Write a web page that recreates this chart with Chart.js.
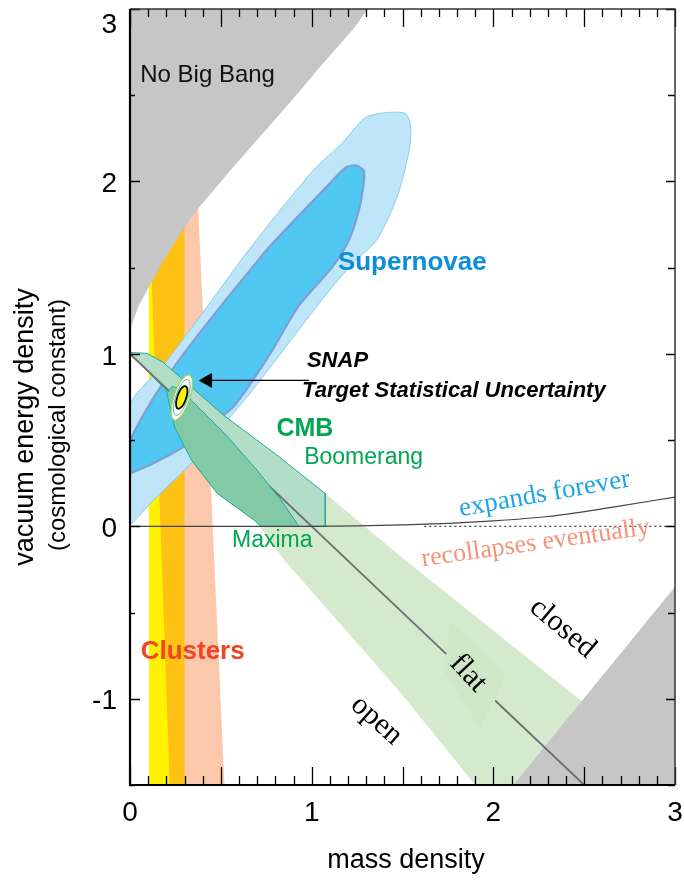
<!DOCTYPE html>
<html><head><meta charset="utf-8">
<script src="https://cdn.jsdelivr.net/npm/chart.js@4.4.1/dist/chart.umd.min.js"></script>
<style>html,body{margin:0;padding:0;background:#fff;}canvas{display:block;}</style>
</head><body>
<canvas id="c" width="684" height="880"></canvas>
<script>
// ---- axes ----
const xRange = [0, 3];
const yRange = [-1.5, 3];
const xTickValues = [0, 1, 2, 3];
const xTickLabels = ['0', '1', '2', '3'];
const yTickValues = [-1, 0, 1, 2, 3];
const yTickLabels = ['-1', '0', '1', '2', '3'];
const xAxisTitle = 'mass density';
const yAxisTitle = 'vacuum energy density';
const yAxisSubTitle = '(cosmological constant)';

// ---- regions (mass density, vacuum energy density) ----
const noBigBang = [[0,3],[1.31,3],[1.232,2.887],[1.05,2.67],[0.89,2.47],[0.565,2.08],[0.365,1.83],[0.297,1.73],[0.19,1.55],[0.11,1.40],[0.044,1.27],[0.01,1.17],[0,1.12]];
const recollapseCorner = [[2.11,-1.5],[3,-1.5],[3,-0.35]];
const clusterPink = [[0.29,2.2],[0.36,2.2],[0.52,-1.5],[0.29,-1.5]];
const clusterYellow = [[0.104,2.2],[0.25,2.2],[0.25,-1.5],[0.104,-1.5]];
const clusterOrange = [[0.093,2.2],[0.30,2.2],[0.30,-1.5],[0.219,-1.5]];
const supernovaOuter = [[0,0.02],[0,0.70],[0.192,0.945],[0.45,1.31],[0.63,1.57],[0.838,1.849],[1.024,2.081],[1.166,2.22],[1.297,2.371],[1.423,2.40],[1.516,2.394],[1.543,2.336],[1.543,2.22],[1.494,1.988],[1.44,1.83],[1.352,1.652],[1.242,1.542],[1.111,1.386],[0.914,1.119],[0.673,0.788],[0.476,0.539],[0.312,0.339],[0.126,0.148],[0.011,0.017]];
const supernovaInner = [[0,0.307],[0.126,0.365],[0.29,0.458],[0.41,0.557],[0.575,0.701],[0.766,0.991],[0.93,1.281],[1.111,1.501],[1.204,1.658],[1.259,1.832],[1.286,1.988],[1.286,2.064],[1.242,2.093],[1.188,2.081],[1.078,1.965],[0.93,1.803],[0.75,1.6],[0.657,1.48],[0.547,1.339],[0.301,1.009],[0.192,0.846],[0.082,0.661],[0,0.487]];
const cmbWide = [[1.075,0.19],[1.516,-0.197],[2.48,-1.009],[2.75,-1.25],[2.45,-1.5],[1.9,-1.5],[1.478,-0.951],[0.85,-0.197],[0.70,0.02],[0.9,0.2]];
const flatPatch = [[1.762,-0.545],[2.069,-0.864],[1.927,-1.171],[1.724,-0.835]];
const cmbBoomerang = [[0,1.008],[0.093,1.003],[0.18,0.953],[0.52,0.64],[0.8,0.42],[1.075,0.19],[1.075,0],[0.72,0],[0.19,0.80],[0.011,0.991]];
const cmbMaxima = [[0.2025,0.771],[0.23,0.81],[0.274,0.80],[0.339,0.73],[0.52,0.539],[0.70,0.325],[0.832,0.151],[0.93,0.0],[0.72,0],[0.684,0.035],[0.48,0.191],[0.339,0.383],[0.246,0.574]];
const snapOuter = [[0.327,0.880],[0.342,0.855],[0.342,0.801],[0.326,0.733],[0.300,0.669],[0.269,0.627],[0.243,0.616],[0.228,0.641],[0.228,0.695],[0.244,0.763],[0.270,0.827],[0.301,0.869]];
const snapMiddle = [[0.318,0.852],[0.329,0.833],[0.329,0.790],[0.316,0.737],[0.295,0.686],[0.272,0.652],[0.252,0.644],[0.241,0.663],[0.241,0.706],[0.254,0.759],[0.275,0.810],[0.298,0.844]];
const snapCore = [[0.306,0.814],[0.315,0.801],[0.316,0.774],[0.308,0.740],[0.295,0.708],[0.278,0.687],[0.264,0.682],[0.255,0.695],[0.254,0.722],[0.262,0.756],[0.275,0.788],[0.292,0.809]];

// ---- lines ----
const flatLineA = [[0,1],[1.74,-0.74]];
const flatLineB = [[2.01,-1.01],[2.5,-1.5]];
const expandBoundary = [[0,0],[0.5,0],[1,0],[1.5,0.008],[2,0.032],[2.3,0.057],[2.65,0.11],[3,0.17]];
const dottedZero = [[1.62,0],[3,0]];
const arrowLine = [[0.985,0.846],[0.43,0.846]];
const arrowHead = [[0.427,0.846]];

// ---- text annotations ----
const annotations = [
  {t:'No Big Bang', x:0.427, y:2.614, f:'24px "Liberation Sans"', c:'#111', a:'center', r:0},
  {t:'Supernovae', x:1.554, y:1.53, f:'bold 26px "Liberation Sans"', c:'#0C8ED9', a:'center', r:0},
  {t:'SNAP', x:0.974, y:0.962, f:'italic bold 22px "Liberation Sans"', c:'#000', a:'left', r:0},
  {t:'Target Statistical Uncertainty', x:0.947, y:0.788, f:'italic bold 22px "Liberation Sans"', c:'#000', a:'left', r:0},
  {t:'CMB', x:0.963, y:0.562, f:'bold 25px "Liberation Sans"', c:'#00A651', a:'center', r:0},
  {t:'Boomerang', x:1.286, y:0.40, f:'23px "Liberation Sans"', c:'#00A651', a:'center', r:0},
  {t:'Maxima', x:0.783, y:-0.081, f:'23px "Liberation Sans"', c:'#00A651', a:'center', r:0},
  {t:'expands forever', x:2.282, y:0.186, f:'27px "Liberation Serif"', c:'#1CA6E5', a:'center', r:-10},
  {t:'recollapses eventually', x:2.233, y:-0.099, f:'26px "Liberation Serif"', c:'#F4937A', a:'center', r:-8},
  {t:'Clusters', x:0.345, y:-0.73, f:'bold 26px "Liberation Sans"', c:'#EE4524', a:'center', r:0},
  {t:'closed', x:2.381, y:-0.591, f:'30px "Liberation Serif"', c:'#000', a:'center', r:40},
  {t:'flat', x:1.861, y:-0.852, f:'30px "Liberation Serif"', c:'#000', a:'center', r:47},
  {t:'open', x:1.357, y:-1.125, f:'30px "Liberation Serif"', c:'#000', a:'center', r:42}
];

const pts = a => a.map(([x, y]) => ({x, y}));
function poly(arr, fill, border, bw, tension) {
  const d = pts(arr); d.push({...d[0]});
  return {data: d, showLine: true, fill: 'shape', backgroundColor: fill,
    borderColor: border || 'rgba(0,0,0,0)', borderWidth: bw || 0, pointRadius: 0, tension: tension || 0};
}
function line(arr, color, bw, extra) {
  return Object.assign({data: pts(arr), showLine: true, fill: false, borderColor: color,
    borderWidth: bw, pointRadius: 0, tension: 0}, extra || {});
}

// bottom -> top
const layers = [
  poly(clusterPink, '#FBC8AC'),
  poly(clusterYellow, '#FFF200'),
  poly(clusterOrange, '#FDC214'),
  poly(supernovaOuter, '#BEE5F8', '#86CDF0', 1, 0.25),
  poly(supernovaInner, '#50C8F2', '#7E9FD6', 2.2, 0.25),
  poly(cmbWide, '#D5EACC'),
  poly(flatPatch, '#CFE6C7'),
  poly(recollapseCorner, '#C6C6C6'),
  poly(noBigBang, '#C6C6C6'),
  poly(cmbBoomerang, '#B2DEC7', '#22A897', 1),
  line(flatLineA, '#6E6E6E', 1.8),
  line(flatLineB, '#6E6E6E', 1.8),
  poly(cmbMaxima, '#82CAA6', '#22A897', 1),
  line(expandBoundary, '#444', 1.2, {cubicInterpolationMode: 'monotone'}),
  line(dottedZero, '#444', 1.2, {borderDash: [2, 3]}),
  poly(snapOuter, '#FFFFFF', '#A6CF4A', 1.2, 0.4),
  poly(snapMiddle, '#FFFFFF', '#47B3A4', 1, 0.4),
  poly(snapCore, '#FFF200', '#000000', 1.8, 0.4),
  line(arrowLine, '#000', 1.3),
  {data: pts(arrowHead), showLine: false, pointStyle: 'triangle', rotation: 270, pointRadius: 8,
    backgroundColor: '#000', borderColor: '#000', borderWidth: 1}
];
layers.forEach((d, i) => { d.order = layers.length - i; });

const decor = {
  id: 'decor',
  afterDatasetsDraw(chart) {
    const ctx = chart.ctx, xs = chart.scales.x, ys = chart.scales.y;
    annotations.forEach(o => {
      ctx.save();
      ctx.translate(xs.getPixelForValue(o.x), ys.getPixelForValue(o.y));
      ctx.rotate(o.r * Math.PI / 180);
      ctx.font = o.f; ctx.fillStyle = o.c; ctx.textAlign = o.a; ctx.textBaseline = 'middle';
      ctx.fillText(o.t, 0, 0);
      ctx.restore();
    });
  },
  afterDraw(chart) {
    const ctx = chart.ctx, xs = chart.scales.x, ys = chart.scales.y, a = chart.chartArea;
    ctx.save();
    ctx.strokeStyle = '#000';
    // ticks
    ctx.lineWidth = 1.3;
    ctx.beginPath();
    for (let i = 0; i <= 30; i++) {
      const v = i / 10, px = Math.round(xs.getPixelForValue(v)) + 0.5;
      const major = i % 5 === 0;
      ctx.moveTo(px, a.bottom); ctx.lineTo(px, a.bottom - (major ? 18 : 9));
      ctx.moveTo(px, a.top); ctx.lineTo(px, a.top + (major ? 18 : 8));
    }
    for (let i = 0; i <= 9; i++) {
      const v = yRange[0] + i * 0.5, py = Math.round(ys.getPixelForValue(v)) + 0.5;
      const major = Number.isInteger(v);
      ctx.moveTo(a.left, py); ctx.lineTo(a.left + (major ? 10 : 5), py);
      ctx.moveTo(a.right, py); ctx.lineTo(a.right - (major ? 9 : 7), py);
    }
    ctx.stroke();
    // frame
    ctx.lineWidth = 1.5; ctx.strokeStyle = '#333';
    ctx.beginPath();
    ctx.moveTo(a.left, a.top); ctx.lineTo(a.right, a.top); ctx.lineTo(a.right, a.bottom);
    ctx.stroke();
    ctx.lineWidth = 2.2; ctx.strokeStyle = '#000';
    ctx.beginPath();
    ctx.moveTo(a.left, a.top); ctx.lineTo(a.left, a.bottom); ctx.lineTo(a.right, a.bottom);
    ctx.stroke();
    // tick labels
    ctx.fillStyle = '#000';
    ctx.font = '28px "Liberation Sans"';
    ctx.textAlign = 'center'; ctx.textBaseline = 'middle';
    xTickValues.forEach((v, i) => ctx.fillText(xTickLabels[i], xs.getPixelForValue(v), 813));
    ctx.textAlign = 'right';
    yTickValues.forEach((v, i) => {
      const py = Math.max(ys.getPixelForValue(v) + 3, a.top + 16);
      ctx.fillText(yTickLabels[i], 117, py);
    });
    // axis titles
    ctx.font = '27px "Liberation Sans"'; ctx.textAlign = 'center';
    ctx.fillText(xAxisTitle, 406, 861);
    ctx.save(); ctx.translate(26, 427); ctx.rotate(-Math.PI / 2);
    ctx.fillText(yAxisTitle, 0, 0); ctx.restore();
    ctx.save(); ctx.translate(58, 425); ctx.rotate(-Math.PI / 2);
    ctx.font = '24px "Liberation Sans"';
    ctx.fillText(yAxisSubTitle, 0, 0); ctx.restore();
    ctx.restore();
  }
};

new Chart(document.getElementById('c'), {
  type: 'scatter',
  data: {datasets: layers},
  options: {
    responsive: false, animation: false, devicePixelRatio: 1,
    layout: {padding: {left: 0, right: 6, top: 8, bottom: 0}},
    plugins: {legend: {display: false}, tooltip: {enabled: false}},
    scales: {
      x: {type: 'linear', min: xRange[0], max: xRange[1], ticks: {display: false},
          grid: {display: false}, border: {display: false}, afterFit: s => { s.height = 95; }},
      y: {type: 'linear', min: yRange[0], max: yRange[1], ticks: {display: false},
          grid: {display: false}, border: {display: false}, afterFit: s => { s.width = 130; }}
    }
  },
  plugins: [decor]
});
</script>
</body></html>
